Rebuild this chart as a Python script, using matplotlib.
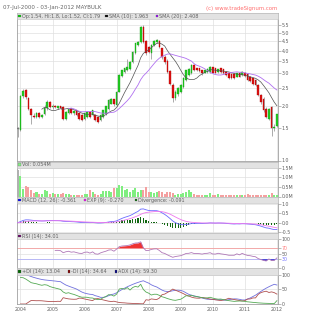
import numpy as np
import pandas as pd
import matplotlib
matplotlib.use("Agg")
import matplotlib.pyplot as plt
from matplotlib.patches import Rectangle

# ---------------- data (monthly bars, Dec 2003 .. Jan 2012) ----------------
opens = [1.50, 1.47, 2.25, 2.42, 2.20, 1.92, 1.76, 1.74, 1.81, 1.74, 1.79, 1.93, 2.10,
         1.96, 1.99, 1.95, 1.98, 1.96, 1.69, 1.82, 1.90, 1.81, 1.88, 1.81, 1.77,
         1.69, 1.73, 1.84, 1.77, 1.77, 1.73, 1.66, 1.73, 1.80, 1.92, 2.05, 2.16,
         2.02, 2.38, 2.90, 3.05, 3.12, 3.19, 3.47, 3.86, 4.30, 4.47, 5.41, 4.50,
         4.20, 3.90, 4.30, 4.45, 4.50, 4.11, 3.70, 3.52, 3.10, 2.60, 2.20, 2.30,
         2.38, 2.53, 2.75, 2.93, 3.00, 3.33, 3.19, 3.19, 3.12, 3.03, 3.06, 3.06,
         3.23, 3.19, 3.06, 3.19, 3.15, 3.06, 3.00, 2.97, 2.97, 2.87, 3.03, 2.93,
         3.03, 2.97, 2.87, 2.81, 2.75, 2.58, 2.28, 2.18, 1.92, 1.69, 1.95, 1.51, 1.54]
highs = [1.52, 2.28, 2.45, 2.48, 2.22, 1.95, 1.82, 1.85, 1.84, 1.80, 2.02, 2.14, 2.13,
         2.03, 2.02, 2.00, 2.00, 1.98, 1.86, 1.95, 1.93, 1.88, 1.90, 1.84, 1.79,
         1.83, 1.86, 1.87, 1.90, 1.80, 1.75, 1.79, 1.90, 2.00, 2.16, 2.20, 2.18,
         2.40, 2.96, 3.15, 3.22, 3.62, 3.50, 3.98, 4.42, 4.52, 5.48, 5.50, 4.55,
         4.25, 4.35, 4.55, 4.62, 4.55, 4.15, 3.78, 3.58, 3.15, 2.65, 2.42, 2.52,
         2.62, 2.85, 3.15, 3.20, 3.40, 3.38, 3.22, 3.22, 3.15, 3.15, 3.20, 3.30,
         3.26, 3.22, 3.18, 3.22, 3.18, 3.10, 3.03, 3.00, 3.00, 3.03, 3.06, 3.08,
         3.06, 3.00, 2.90, 2.84, 2.78, 2.62, 2.32, 2.22, 1.96, 1.95, 1.98, 1.58, 1.80]
lows = [1.34, 1.45, 2.20, 2.18, 1.88, 1.59, 1.70, 1.72, 1.70, 1.70, 1.77, 1.90, 1.94,
        1.92, 1.94, 1.92, 1.92, 1.66, 1.67, 1.80, 1.79, 1.78, 1.75, 1.67, 1.65,
        1.67, 1.71, 1.71, 1.75, 1.64, 1.60, 1.64, 1.71, 1.78, 1.90, 2.03, 2.00,
        2.00, 2.36, 2.85, 3.00, 3.08, 3.15, 3.44, 3.84, 4.25, 4.40, 4.40, 3.80,
        3.90, 3.62, 4.25, 4.40, 4.15, 3.60, 3.40, 3.00, 2.60, 2.08, 2.15, 2.25,
        2.35, 2.50, 2.72, 2.90, 2.97, 3.08, 3.08, 3.05, 2.95, 3.00, 3.03, 3.03,
        3.00, 3.00, 3.03, 3.03, 2.97, 2.90, 2.80, 2.80, 2.80, 2.85, 2.85, 2.90,
        2.86, 2.74, 2.70, 2.60, 2.55, 2.25, 2.05, 1.85, 1.70, 1.66, 1.37, 1.45, 1.52]
closes = [1.48, 2.25, 2.40, 2.22, 1.92, 1.77, 1.73, 1.82, 1.74, 1.78, 1.93, 2.10, 1.97,
          1.99, 1.97, 1.98, 1.94, 1.69, 1.84, 1.92, 1.81, 1.86, 1.77, 1.69, 1.67,
          1.81, 1.84, 1.73, 1.88, 1.66, 1.62, 1.77, 1.88, 1.98, 2.14, 2.18, 2.05,
          2.38, 2.93, 3.12, 3.19, 3.26, 3.47, 3.94, 4.38, 4.47, 5.41, 4.47, 3.86,
          3.94, 4.30, 4.50, 4.55, 4.20, 3.67, 3.47, 3.06, 2.64, 2.20, 2.38, 2.48,
          2.58, 2.81, 3.12, 3.15, 3.33, 3.12, 3.12, 3.09, 3.00, 3.12, 3.15, 3.26,
          3.03, 3.03, 3.15, 3.06, 3.00, 2.93, 2.84, 2.84, 2.84, 3.00, 2.87, 3.04,
          2.89, 2.77, 2.73, 2.64, 2.58, 2.28, 2.09, 1.88, 1.73, 1.92, 1.51, 1.52, 1.79]
volumes = [1.36, 1.08, 0.41, 0.54, 0.50, 0.36, 0.18, 0.23, 0.14, 0.12, 0.32, 0.29, 0.14,
           0.18, 0.14, 0.11, 0.12, 0.18, 0.14, 0.11, 0.09, 0.08, 0.09, 0.07, 0.08,
           0.14, 0.14, 0.36, 0.23, 0.14, 0.09, 0.12, 0.27, 0.27, 0.29, 0.23, 0.45,
           0.45, 0.59, 0.55, 0.36, 0.41, 0.23, 0.32, 0.47, 0.23, 0.32, 0.36, 0.50,
           0.23, 0.23, 0.18, 0.23, 0.29, 0.23, 0.14, 0.23, 0.23, 0.18, 0.09, 0.14,
           0.14, 0.18, 0.23, 0.36, 0.21, 0.11, 0.09, 0.08, 0.08, 0.08, 0.09, 0.18,
           0.08, 0.07, 0.14, 0.08, 0.07, 0.06, 0.07, 0.06, 0.06, 0.07, 0.08, 0.06,
           0.07, 0.11, 0.07, 0.06, 0.07, 0.06, 0.07, 0.08, 0.07, 0.06, 0.20, 0.06, 0.054]
year_labels = ["2004", "2005", "2006", "2007", "2008", "2009", "2010", "2011", "2012"]

title_text = "07-Jul-2000 - 03-Jan-2012 MAYBULK"
credit_text = "(c) www.tradeSignum.com"
leg_price = ["Op:1.54, Hi:1.8, Lo:1.52, Cl:1.79", "SMA (10): 1.963", "SMA (20): 2.408"]
leg_vol = ["Vol: 0.054M"]
leg_macd = ["MACD (12, 26): -0.361", "EXP (9): -0.270", "Divergence: -0.091"]
leg_rsi = ["RSI (14): 34.01"]
leg_dmi = ["+DI (14): 13.04", "-DI (14): 34.64", "ADX (14): 59.30"]

# ---------------- indicators from the bars ----------------
k = np.arange(-1, len(closes) - 1)
O = np.array(opens); H = np.array(highs); L = np.array(lows); C = np.array(closes)
V = np.array(volumes)
cs = pd.Series(C)
sma10 = cs.rolling(10).mean().values
sma20 = cs.rolling(20).mean().values
ema12 = cs.ewm(span=12, adjust=False).mean()
ema26 = cs.ewm(span=26, adjust=False).mean()
macd = (ema12 - ema26)
sig = macd.ewm(span=9, adjust=False).mean()
divg = (macd - sig).values
macd = macd.values; sig = sig.values

# RSI (Wilder)
d = np.diff(C)
g = np.where(d > 0, d, 0.0); l_ = np.where(d < 0, -d, 0.0)
rsi = np.full(len(C), np.nan)
ag = g[:14].mean(); al = l_[:14].mean()
rsi[14] = 100 - 100 / (1 + ag / al)
for i in range(14, len(d)):
    ag = (ag * 13 + g[i]) / 14
    al = (al * 13 + l_[i]) / 14
    rsi[i + 1] = 100 - 100 / (1 + ag / al)

# DMI
up = H[1:] - H[:-1]
dn = L[:-1] - L[1:]
pdm = np.where((up > dn) & (up > 0), up, 0.0)
mdm = np.where((dn > up) & (dn > 0), dn, 0.0)
tr = np.maximum.reduce([H[1:] - L[1:], np.abs(H[1:] - C[:-1]), np.abs(L[1:] - C[:-1])])
sp = pd.Series(pdm).ewm(span=14, adjust=False).mean().values
sm = pd.Series(mdm).ewm(span=14, adjust=False).mean().values
st = pd.Series(tr).ewm(span=14, adjust=False).mean().values
pdi = 100 * sp / st
mdi = 100 * sm / st
dx = 100 * np.abs(pdi - mdi) / np.maximum(pdi + mdi, 1e-9)
adx = pd.Series(dx).ewm(span=14, adjust=False).mean().values
kd = k[1:]

# ---------------- figure ----------------
W, Hh = 309, 320
fig = plt.figure(figsize=(W / 100, Hh / 100), dpi=100)
fig.patch.set_facecolor("white")
XL, XR = 17, 277.7
k0, k1 = -1.3, 96.3
TXT = "#606060"

def mk(y0, y1):
    ax = fig.add_axes([XL / W, 1 - y1 / Hh, (XR - XL) / W, (y1 - y0) / Hh])
    ax.set_xlim(k0, k1)
    for s in ax.spines.values():
        s.set_color("#a0a0a0"); s.set_linewidth(0.6)
    ax.yaxis.tick_right()
    ax.tick_params(axis="y", direction="out", length=2, width=0.5, colors="#a0a0a0",
                   labelsize=3.4, labelcolor=TXT, pad=1)
    ax.tick_params(axis="x", length=0, labelsize=3.4, labelcolor=TXT, pad=2)
    ax.set_xticks(np.arange(0, 97, 12))
    ax.set_xticklabels([])
    ax.grid(True, color="#e0e0e0", lw=0.5)
    ax.set_axisbelow(True)
    return ax

def band(ax, px, y0, y1, items):
    ph = y1 - y0
    hf = px / ph
    ax.add_patch(Rectangle((0, 1 - hf), 1, hf, transform=ax.transAxes, facecolor="#e2e2e2",
                           edgecolor="#c4c4c4", lw=0.4, zorder=8, clip_on=False))
    for xp, col, txt in items:
        xf = (xp - XL) / (XR - XL)
        sq = 2.6
        ax.add_patch(Rectangle((xf, 1 - hf / 2 - sq / 2 / ph), sq / (XR - XL), sq / ph,
                               transform=ax.transAxes, facecolor=col, edgecolor="#606060",
                               lw=0.2, zorder=9, clip_on=False))
        ax.text(xf + 3.8 / (XR - XL), 1 - hf / 2, txt, color=TXT, fontsize=3.5,
                va="center", ha="left", transform=ax.transAxes, zorder=9)

GREEN, RED = "#22cc22", "#dd1111"
cols = np.where(C >= O, GREEN, RED).astype(object)
cols[0] = "#808080"
ecols = np.where(C >= O, "#119911", "#aa0000").astype(object)
ecols[0] = "#707070"

# price
y0, y1 = 13, 160.5
ax = mk(y0, y1)
ax.set_yscale("log")
ax.set_ylim(1.0, 6.43)
yt = [1.0, 1.5, 2.0, 2.5, 3.0, 3.5, 4.0, 4.5, 5.0, 5.5]
ax.set_yticks(yt)
ax.set_yticklabels([f"{v:.1f}" for v in yt])
ax.yaxis.set_minor_locator(matplotlib.ticker.NullLocator())
ax.vlines(k, L, H, color="#8a8a8a", lw=0.5, zorder=2)
ax.bar(k, np.abs(C - O) + 0.004, bottom=np.minimum(O, C), width=0.62, color=list(cols),
       edgecolor=list(ecols), lw=0.25, zorder=3)
ax.plot(k, sma10, color="#505050", lw=0.5, zorder=4)
ax.plot(k, sma20, color="#b070f0", lw=0.6, zorder=4)
band(ax, 6.2, y0, y1, [(18.3, "#00cc00", leg_price[0]), (105.5, "#000000", leg_price[1]),
                        (155.5, "#9900ff", leg_price[2])])

# volume
y0, y1 = 161.5, 196.5
ax = mk(y0, y1)
ax.set_ylim(0, 1.83)
ax.set_yticks([0, 0.5, 1.0, 1.5])
ax.set_yticklabels(["0.0M", "0.5M", "1.0M", "1.5M"])
vcols = np.where(C >= O, "#80ee80", "#f4a0a0").astype(object)
vcols[0] = "#b0b0b0"
ax.bar(k, V, width=0.75, color=list(vcols), lw=0, zorder=3)
band(ax, 6.2, y0, y1, [(18.3, "#88ee88", leg_vol[0])])

# macd
y0, y1 = 197, 233
ax = mk(y0, y1)
ax.set_ylim(-0.55, 1.37)
ax.set_yticks([-0.5, 0.0, 0.5, 1.0])
ax.set_yticklabels(["-0.5", "0.0", "0.5", "1.0"])
ax.bar(k, divg, width=0.4, color="#116611", lw=0, zorder=3)
ax.plot(k, macd, color="#6a6aff", lw=0.6, zorder=4)
ax.plot(k, sig, color="#ee77ee", lw=0.6, zorder=4)
band(ax, 6.2, y0, y1, [(18.3, "#0000ff", leg_macd[0]), (83.5, "#ff00ff", leg_macd[1]),
                        (134.5, "#006600", leg_macd[2])])

# rsi
y0, y1 = 233, 268
ax = mk(y0, y1)
ax.set_ylim(0, 120.7)
ax.set_yticks([0, 30, 50, 70, 100])
ax.set_yticklabels(["0", "30", "50", "70", "100"])
for lab, c in zip(ax.get_yticklabels(), [TXT, "#7070ff", TXT, "#ff8080", TXT]):
    lab.set_color(c)
ax.axhline(70, color="#f4a0a0", lw=0.6, zorder=2)
ax.axhline(30, color="#b0b0f8", lw=0.6, zorder=2)
ax.fill_between(k, rsi, 70, where=rsi > 70, interpolate=True, color="#ee3333", lw=0, zorder=3)
ax.fill_between(k, rsi, 30, where=rsi < 30, interpolate=True, color="#2222cc", lw=0, zorder=3)
ax.plot(k, rsi, color="#b078b8", lw=0.6, zorder=4)
band(ax, 6.2, y0, y1, [(18.3, "#660066", leg_rsi[0])])

# dmi
y0, y1 = 268, 304
ax = mk(y0, y1)
ax.set_ylim(0, 124)
ax.set_yticks([0, 50, 100])
ax.set_yticklabels(["0", "50", "100"])
ax.plot(kd, adx, color="#7070dd", lw=0.6, zorder=4)
ax.plot(kd, mdi, color="#b05050", lw=0.6, zorder=4)
ax.plot(kd, pdi, color="#55aa55", lw=0.6, zorder=4)
ax.set_xticklabels(year_labels)
band(ax, 7, y0, y1, [(18.3, "#006600", leg_dmi[0]), (67.5, "#800000", leg_dmi[1]),
                      (114.5, "#000080", leg_dmi[2])])

fig.text(3 / W, 1 - 7.5 / Hh, title_text, fontsize=4.0, color="#666666", va="center")
fig.text(277.5 / W, 1 - 8.5 / Hh, credit_text, fontsize=3.9, color="#ff7070", va="center", ha="right")

fig.savefig("out.png", dpi=100)
